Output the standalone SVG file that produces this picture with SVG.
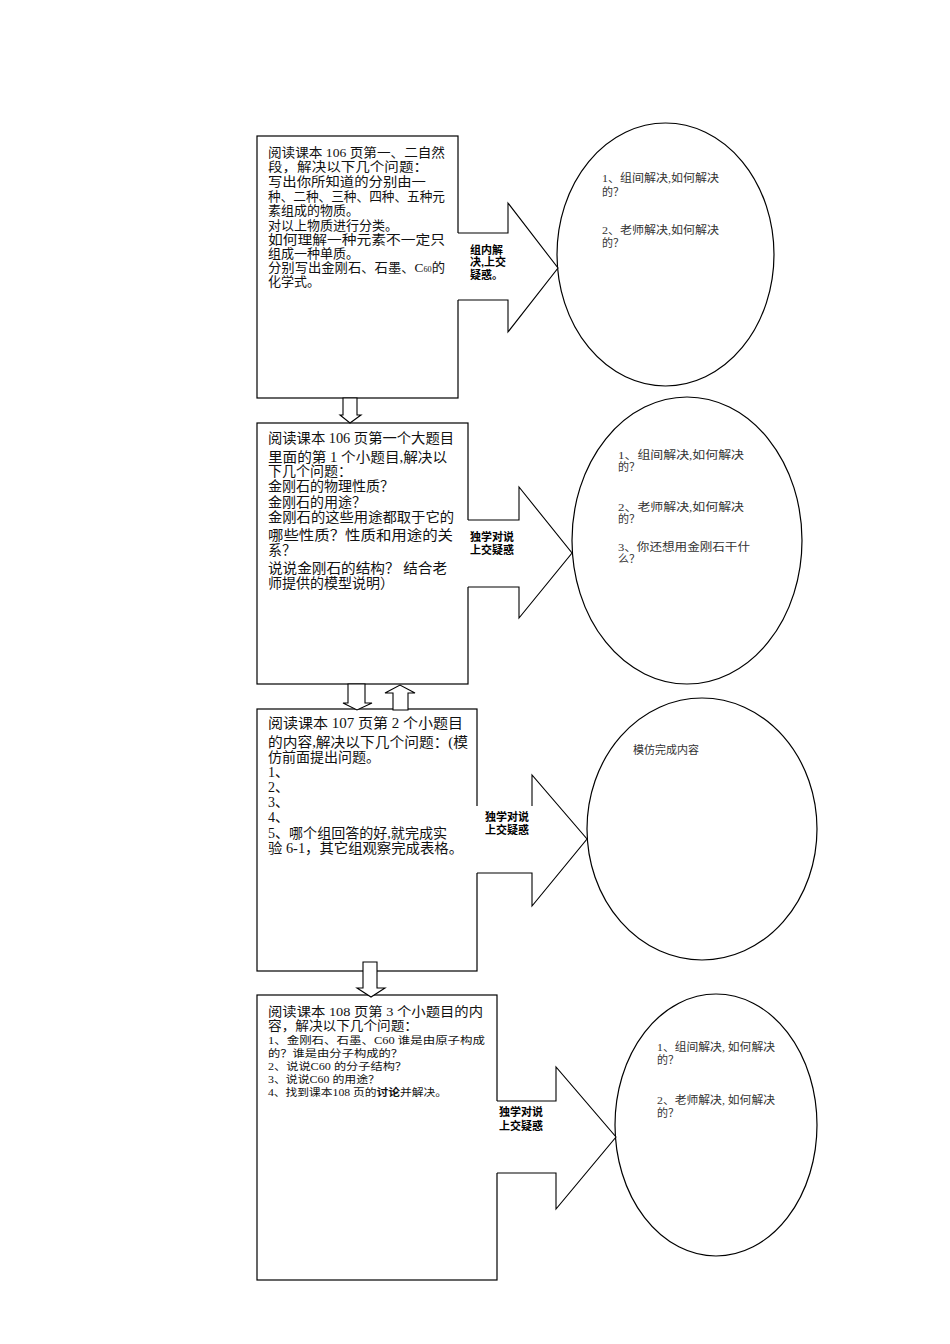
<svg xmlns="http://www.w3.org/2000/svg" width="950" height="1344" viewBox="0 0 950 1344">
<style>
.box{fill:#fff;stroke:#000;stroke-width:1.2}
.ell{fill:#fff;stroke:#000;stroke-width:1.2}
.af{fill:#fff;stroke:none}
.ae{fill:none;stroke:#000;stroke-width:1.1}
.sa{fill:#fff;stroke:#000;stroke-width:1.1}
.t{font-family:"Liberation Serif","Noto Sans CJK SC",serif;font-size:14px;fill:#111}
.t1{font-family:"Liberation Serif","Noto Sans CJK SC",serif;font-size:13px;fill:#111}
.s{font-family:"Liberation Serif","Noto Sans CJK SC",serif;font-size:10.5px;fill:#111}
.e{font-family:"Liberation Serif","Noto Sans CJK SC",serif;font-size:11px;fill:#333}
.l{font-family:"Liberation Sans","Noto Sans CJK SC",sans-serif;font-size:11px;font-weight:bold;fill:#000}
</style>
<rect width="950" height="1344" fill="#fff"/>

<g id="box1">
<rect class="box" x="257" y="136" width="201" height="262"/>
<text class="t1" x="268" y="157" textLength="177" lengthAdjust="spacingAndGlyphs">阅读课本 106 页第一、二自然</text>
<text class="t1" x="268" y="171" textLength="160" lengthAdjust="spacingAndGlyphs">段，解决以下几个问题：</text>
<text class="t1" x="268" y="186" textLength="158" lengthAdjust="spacingAndGlyphs">写出你所知道的分别由一</text>
<text class="t1" x="268" y="201" textLength="177" lengthAdjust="spacingAndGlyphs">种、二种、三种、四种、五种元</text>
<text class="t1" x="268" y="215">素组成的物质。</text>
<text class="t1" x="268" y="230">对以上物质进行分类。</text>
<text class="t1" x="268" y="244" textLength="177" lengthAdjust="spacingAndGlyphs">如何理解一种元素不一定只</text>
<text class="t1" x="268" y="258">组成一种单质。</text>
<text class="t1" x="268" y="272" textLength="177" lengthAdjust="spacingAndGlyphs">分别写出金刚石、石墨、C<tspan font-size="8">60</tspan>的</text>
<text class="t1" x="268" y="286">化学式。</text>
</g>

<g id="box2">
<rect class="box" x="257" y="423" width="211" height="261"/>
<text class="t" x="268" y="443" textLength="186" lengthAdjust="spacingAndGlyphs">阅读课本 106 页第一个大题目</text>
<text class="t" x="268" y="462" textLength="179" lengthAdjust="spacingAndGlyphs">里面的第 1 个小题目,解决以</text>
<text class="t" x="268" y="476">下几个问题：</text>
<text class="t" x="268" y="491">金刚石的物理性质？</text>
<text class="t" x="268" y="507">金刚石的用途？</text>
<text class="t" x="268" y="522" textLength="186" lengthAdjust="spacingAndGlyphs">金刚石的这些用途都取于它的</text>
<text class="t" x="268" y="540" textLength="185" lengthAdjust="spacingAndGlyphs">哪些性质？性质和用途的关</text>
<text class="t" x="268" y="555">系？</text>
<text class="t" x="268" y="573" textLength="179" lengthAdjust="spacingAndGlyphs">说说金刚石的结构？  结合老</text>
<text class="t" x="268" y="588">师提供的模型说明）</text>
</g>

<g id="box3">
<rect class="box" x="257" y="709" width="220" height="262"/>
<text class="t" x="268" y="728" textLength="195" lengthAdjust="spacingAndGlyphs">阅读课本 107 页第 2 个小题目</text>
<text class="t" x="268" y="747" textLength="200" lengthAdjust="spacingAndGlyphs">的内容,解决以下几个问题：(模</text>
<text class="t" x="268" y="762">仿前面提出问题。</text>
<text class="t" x="268" y="777">1、</text>
<text class="t" x="268" y="792">2、</text>
<text class="t" x="268" y="807">3、</text>
<text class="t" x="268" y="822">4、</text>
<text class="t" x="268" y="838" textLength="179" lengthAdjust="spacingAndGlyphs">5、哪个组回答的好,就完成实</text>
<text class="t" x="268" y="853" textLength="195" lengthAdjust="spacingAndGlyphs">验 6-1，其它组观察完成表格。</text>
</g>

<g id="box4">
<rect class="box" x="257" y="995" width="240" height="285"/>
<text class="t1" x="268" y="1016" textLength="215" lengthAdjust="spacingAndGlyphs">阅读课本 108 页第 3 个小题目的内</text>
<text class="t1" x="268" y="1030" textLength="150" lengthAdjust="spacingAndGlyphs">容，解决以下几个问题：</text>
<text class="s" x="268" y="1044" textLength="217" lengthAdjust="spacingAndGlyphs">1、金刚石、石墨、C60 谁是由原子构成</text>
<text class="s" x="268" y="1057" textLength="135" lengthAdjust="spacingAndGlyphs">的？谁是由分子构成的？</text>
<text class="s" x="268" y="1070" textLength="139" lengthAdjust="spacingAndGlyphs">2、说说C60 的分子结构？</text>
<text class="s" x="268" y="1083" textLength="112" lengthAdjust="spacingAndGlyphs">3、说说C60 的用途？</text>
<text class="s" x="268" y="1096" textLength="179" lengthAdjust="spacingAndGlyphs">4、找到课本108 页的<tspan font-weight="bold">讨论</tspan>并解决。</text>
</g>

<g id="ellipse1">
<ellipse class="ell" cx="665.5" cy="254.5" rx="108.5" ry="131.5"/>
<text class="e" x="602" y="182" textLength="117" lengthAdjust="spacingAndGlyphs">1、组间解决,如何解决</text>
<text class="e" x="602" y="196">的？</text>
<text class="e" x="602" y="234" textLength="117" lengthAdjust="spacingAndGlyphs">2、老师解决,如何解决</text>
<text class="e" x="602" y="247">的？</text>
</g>

<g id="ellipse2">
<ellipse class="ell" cx="687" cy="540.5" rx="115" ry="143.5"/>
<text class="e" x="618" y="459" textLength="126" lengthAdjust="spacingAndGlyphs">1、组间解决,如何解决</text>
<text class="e" x="618" y="471">的？</text>
<text class="e" x="618" y="511" textLength="126" lengthAdjust="spacingAndGlyphs">2、老师解决,如何解决</text>
<text class="e" x="618" y="523">的？</text>
<text class="e" x="618" y="551" textLength="132" lengthAdjust="spacingAndGlyphs">3、你还想用金刚石干什</text>
<text class="e" x="618" y="563">么？</text>
</g>

<g id="ellipse3">
<ellipse class="ell" cx="702" cy="829" rx="115" ry="131"/>
<text class="e" x="633" y="754">模仿完成内容</text>
</g>

<g id="ellipse4">
<ellipse class="ell" cx="716" cy="1125" rx="101" ry="131"/>
<text class="e" x="657" y="1051" textLength="118" lengthAdjust="spacingAndGlyphs">1、组间解决, 如何解决</text>
<text class="e" x="657" y="1064">的？</text>
<text class="e" x="657" y="1104" textLength="118" lengthAdjust="spacingAndGlyphs">2、老师解决, 如何解决</text>
<text class="e" x="657" y="1117">的？</text>
</g>

<g id="connectors">
<polygon class="af" points="457,233 508,233 508,203 558,268 508,332 508,300 457,300"/>
<polyline class="ae" points="458,233 508,233 508,203 558,268 508,332 508,300 458,300"/>
<text class="l" x="470" y="254">组内解</text>
<text class="l" x="470" y="266">决,上交</text>
<text class="l" x="470" y="279">疑惑。</text>

<polygon class="af" points="467,520 519,520 519,487 572,553 519,618 519,587 467,587"/>
<polyline class="ae" points="468,520 519,520 519,487 572,553 519,618 519,587 468,587"/>
<text class="l" x="470" y="541">独学对说</text>
<text class="l" x="470" y="554">上交疑惑</text>

<polygon class="af" points="476,806 532,806 532,775 587,839 532,906 532,873 476,873"/>
<polyline class="ae" points="532,806 532,775 587,839 532,906 532,873 477,873"/>
<text class="l" x="485" y="821">独学对说</text>
<text class="l" x="485" y="834">上交疑惑</text>

<polygon class="af" points="496,1101 556,1101 556,1067 616,1137 556,1209 556,1173 496,1173"/>
<polyline class="ae" points="497,1101 556,1101 556,1067 616,1137 556,1209 556,1173 497,1173"/>
<text class="l" x="499" y="1116">独学对说</text>
<text class="l" x="499" y="1130">上交疑惑</text>

<polygon class="sa" points="343,398 357,398 357,415 361,415 350,423 340,415 343,415"/>
<polygon class="sa" points="348,684 365,684 365,703 372,703 357,710 343,703 348,703"/>
<polygon class="sa" points="393,710 408,710 408,693 415,693 400,685 385,693 393,693"/>
<polygon class="sa" points="363,962 377,962 377,988 385,988 371,997 357,988 363,988"/>
</g>
</svg>
